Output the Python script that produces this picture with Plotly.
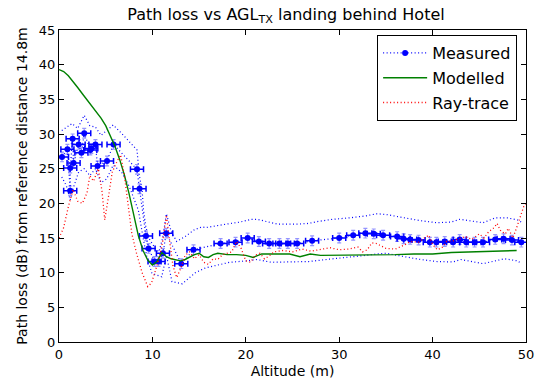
import plotly.graph_objects as go

# ---------------- data ----------------
meas_x = [0.32, 0.9, 1.2, 1.2, 1.46, 1.56, 2.1, 2.4, 2.7, 3.35, 3.46, 3.9, 4.13, 5.14, 5.84,
          8.35, 8.62, 9.31, 9.59, 10.23, 10.66, 11.13, 11.48, 13.09, 14.4,
          17.3, 18.9, 20.2, 21.4, 22.5, 23.6, 24.5, 25.5, 27.1, 30.0, 31.5, 32.8, 33.7,
          34.7, 36.2, 36.9, 37.6, 38.5, 39.7, 40.4, 41.3, 42.2, 42.9, 43.6, 44.5, 45.4,
          46.7, 47.6, 48.5, 49.5]
meas_y = [26.7, 27.8, 21.8, 25.1, 29.3, 25.8, 28.5, 27.3, 30.1, 27.7, 27.9, 28.5, 25.4, 26.1, 28.5,
          24.9, 22.1, 15.3, 13.5, 11.6, 11.6, 12.8, 15.7, 11.3, 13.3,
          14.2, 14.4, 15.0, 14.5, 14.2, 14.2, 14.2, 14.2, 14.6, 15.0, 15.4, 15.7, 15.6,
          15.4, 15.2, 14.9, 14.8, 14.7, 14.4, 14.4, 14.5, 14.4, 14.8, 14.4, 14.4, 14.4,
          14.8, 14.9, 14.7, 14.4]
meas_xerr = [0.7] * len(meas_x)
meas_yerr = [0.7] * len(meas_x)

upper_x = [0.3, 0.8, 1.4, 2.0, 2.7, 3.3, 3.9, 4.5, 5.1, 5.8, 6.7, 7.5, 8.35, 8.6, 8.9, 9.05, 9.3,
           9.6, 10.3, 10.7, 11.1, 11.5, 12.0, 12.6, 13.5, 14.5, 15.3, 15.7, 16.8, 17.9, 19.4,
           20.6, 21.2, 22.3, 23.4, 25.6, 26.7, 27.8, 29.3, 31.1, 32.9, 34.0, 35.0, 36.6, 38.7,
           40.5, 42.0, 42.9, 44.2, 45.4, 46.7, 48.0, 49.1, 49.5]
upper_y = [30.5, 31.0, 31.5, 30.8, 32.7, 31.2, 31.0, 29.8, 30.5, 31.3, 30.1, 29.0, 27.7, 24.0, 21.9,
           19.0, 16.6, 15.0, 13.5, 13.0, 15.0, 18.5, 16.0, 14.5, 15.2, 16.2, 16.6, 16.5, 16.7,
           17.0, 17.3, 17.7, 17.7, 17.4, 17.0, 17.0, 17.1, 17.4, 17.7, 17.9, 18.2, 18.5, 18.4,
           18.0, 17.5, 17.2, 17.3, 17.7, 17.4, 17.2, 17.9, 17.9, 17.6, 17.3]

lower_x = [0.3, 0.8, 1.2, 1.6, 2.1, 2.7, 3.3, 3.9, 4.5, 5.1, 5.8, 6.7, 7.5, 8.5, 9.05, 9.4, 9.95,
           10.5, 11.0, 11.5, 12.1, 13.2, 14.6, 15.7, 16.8, 18.3, 20.1, 21.2, 22.7, 24.1, 26.7,
           29.3, 31.1, 32.9, 34.0, 35.0, 36.6, 38.7, 40.5, 42.2, 43.0, 45.4, 47.7, 49.1, 49.5]
lower_y = [23.8, 22.5, 20.5, 22.5, 24.5, 25.0, 24.0, 25.0, 23.0, 23.5, 25.5, 24.5, 22.5, 19.0, 14.7,
           12.3, 9.9, 9.6, 9.4, 12.5, 8.7, 8.4, 10.0, 10.7, 11.0, 11.5, 11.7, 11.9, 11.5, 11.5,
           11.6, 12.0, 12.2, 12.5, 12.7, 12.8, 12.4, 11.9, 11.6, 11.55, 11.9, 11.3, 12.0, 11.7, 11.3]

model_x = [0, 0.5, 1, 1.5, 2, 2.5, 3, 3.5, 4, 4.5, 5, 5.5, 6, 6.5, 7, 7.5, 8, 8.5, 9, 9.5, 10,
           10.5, 11, 11.5, 12, 12.5, 13, 13.5, 14, 14.5, 15, 15.5, 16, 16.5, 17, 18, 19, 20,
           20.8, 21.7, 23, 24.7, 25.8, 26.9, 28, 30, 32, 34, 36, 38, 40, 42, 44, 46, 47, 49]
model_y = [39.3, 39.0, 38.4, 37.6, 36.7, 35.8, 34.9, 34.1, 33.2, 32.3, 31.2, 29.8, 28.2, 26.3,
           24.1, 21.4, 18.3, 15.3, 13.2, 11.8, 11.1, 11.6, 12.9, 12.3, 12.0, 11.8, 11.7, 11.9,
           12.3, 12.6, 12.8, 12.3, 12.2, 12.6, 12.8, 12.6, 12.6, 12.5, 12.2, 12.7, 12.7, 12.7,
           12.3, 12.7, 12.5, 12.5, 12.5, 12.6, 12.6, 12.7, 12.7, 12.9, 13.0, 13.1, 13.1, 13.2]

ray_x = [0, 0.5, 1.0, 1.5, 2.0, 2.5, 3.0, 3.3, 3.7, 4.2, 4.6, 4.9, 5.3, 5.7, 6.2, 6.6, 7.0, 7.3,
         7.8, 8.3, 8.9, 9.5, 9.9, 10.3, 10.7, 11.1, 11.5, 11.8, 12.2, 12.6, 13.0, 13.5, 14.0,
         14.5, 15.0, 15.5, 16.0, 16.5, 17.0, 17.5, 18.0, 18.5, 19.0, 19.5, 20.0, 20.5, 21.0,
         21.5, 22.0, 22.5, 23, 24, 25, 26, 27, 28, 29, 30, 31, 32, 32.5, 33, 33.5, 34, 35, 36,
         37, 37.6, 38.5, 39, 39.6, 40, 40.5, 41, 41.5, 42.2, 42.9, 43.5, 44.2, 45, 45.5, 46,
         46.6, 46.9, 47.3, 47.8, 48.1, 48.6, 49, 49.5, 49.8, 50]
ray_y = [15.0, 16.5, 19.5, 22.0, 20.3, 20.0, 21.5, 24.0, 23.2, 25.0, 21.8, 17.6, 21.0, 24.5, 26.0,
         27.0, 24.0, 20.5, 15.6, 12.8, 10.0, 8.0, 8.5, 10.2, 12.0, 14.5, 18.3, 15.0, 11.0, 9.3,
         10.5, 12.5, 13.0, 12.0, 12.6, 11.5, 11.2, 12.0, 11.9, 12.6, 12.8, 13.0, 14.5, 13.5,
         11.7, 11.5, 12.5, 12.8, 12.0, 12.4, 13.0, 13.2, 13.0, 13.4, 13.1, 13.3, 13.6, 13.3,
         13.4, 13.7, 13.0, 13.3, 14.3, 14.2, 13.5, 13.4, 14.0, 14.5, 14.4, 14.9, 15.4, 14.1,
         13.3, 13.6, 14.5, 14.6, 14.9, 15.2, 14.8, 15.6, 15.0, 15.9, 16.5, 17.1, 16.0, 15.6,
         16.4, 15.0, 16.5, 18.5, 19.7, 20.0]

x_ticks = [0, 10, 20, 30, 40, 50]
y_ticks = [0, 5, 10, 15, 20, 25, 30, 35, 40, 45]

BLUE = "#0000ff"
GREEN = "#008000"
RED = "#ff0000"
FONT = "DejaVu Sans"

fig = go.Figure()

fig.add_trace(go.Scatter(x=upper_x, y=upper_y, mode="lines", showlegend=False,
                         line=dict(color=BLUE, width=1.2, dash="1px,2.5px"), hoverinfo="skip"))
fig.add_trace(go.Scatter(x=lower_x, y=lower_y, mode="lines", showlegend=False,
                         line=dict(color=BLUE, width=1.2, dash="1px,2.5px"), hoverinfo="skip"))

fig.add_trace(go.Scatter(
    x=meas_x, y=meas_y, mode="lines+markers", name="Measured", legendgroup="a",
    line=dict(color=BLUE, width=1.2, dash="1px,2.5px"),
    marker=dict(color=BLUE, size=6, line=dict(width=0)),
    error_x=dict(type="data", array=meas_xerr, color=BLUE, thickness=1.5, width=3),
    error_y=dict(type="data", array=meas_yerr, color="rgba(60,60,255,0.55)", thickness=1.2, width=2),
))
fig.add_trace(go.Scatter(x=model_x, y=model_y, mode="lines", name="Modelled", legendgroup="b",
                         line=dict(color=GREEN, width=1.4)))
fig.add_trace(go.Scatter(x=ray_x, y=ray_y, mode="lines", name="Ray-trace", legendgroup="c",
                         line=dict(color=RED, width=1.3, dash="1px,2.5px")))

axis_common = dict(showline=True, linecolor="black", linewidth=1.2, mirror="ticks",
                   ticks="inside", ticklen=5, tickcolor="black", tickwidth=1,
                   showgrid=False, zeroline=False,
                   tickfont=dict(family=FONT, size=13, color="black"))

fig.update_xaxes(range=[0, 50], tickvals=x_ticks, ticktext=[str(v) for v in x_ticks],
                 title=dict(text="Altitude (m)", font=dict(family=FONT, size=14, color="black"),
                            standoff=5),
                 **axis_common)
fig.update_yaxes(range=[0, 45], tickvals=y_ticks, ticktext=[str(v) for v in y_ticks],
                 title=dict(text="Path loss (dB) from reference distance 14.8m",
                            font=dict(family=FONT, size=14, color="black"), standoff=7),
                 **axis_common)

fig.update_layout(
    width=537, height=381,
    margin=dict(l=59, r=11, t=30, b=39, autoexpand=False),
    paper_bgcolor="white", plot_bgcolor="white",
    title=dict(text="Path loss vs AGL<sub>TX</sub> landing behind Hotel",
               font=dict(family=FONT, size=16, color="black"),
               x=286 / 537, xanchor="center", y=0.962, yanchor="middle"),
    legend=dict(x=0.981, xanchor="right", y=0.984, yanchor="top",
                bordercolor="black", borderwidth=1, bgcolor="white",
                font=dict(family=FONT, size=16, color="black"),
                tracegroupgap=1, itemwidth=44),
    showlegend=True,
)

fig.write_html("out.html")
